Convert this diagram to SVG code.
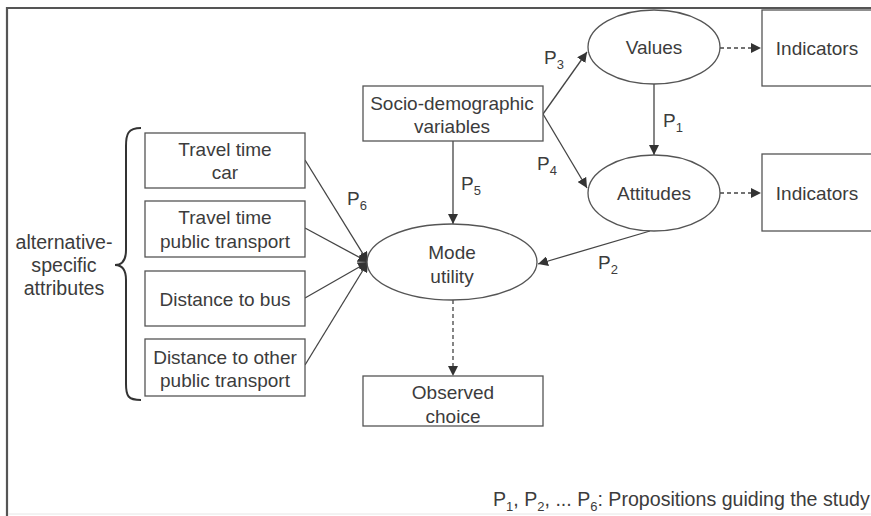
<svg xmlns="http://www.w3.org/2000/svg" width="871" height="516" viewBox="0 0 871 516">
<defs>
<style>
.box{fill:#fff;stroke:#555;stroke-width:1.3}
.ell{fill:#fff;stroke:#555;stroke-width:1.3}
.ln{fill:none;stroke:#444;stroke-width:1.3}
.dash{fill:none;stroke:#444;stroke-width:1.3;stroke-dasharray:4,3}
text{font-family:"Liberation Sans",Arial,sans-serif;font-size:19px;fill:#3c3c3c;text-anchor:middle}
.lab{text-anchor:start}
.big{font-size:19.6px}
.sub{font-size:13px}
</style>
<marker id="ah" viewBox="0 0 10 10" refX="10" refY="5" markerWidth="10" markerHeight="10" markerUnits="userSpaceOnUse" orient="auto">
<path d="M0,0 L10,5 L0,10 z" fill="#333"/>
</marker>
</defs>
<rect x="0" y="0" width="871" height="516" fill="#fff"/>
<g id="frame">
<path d="M7,516 V8 H871" fill="none" stroke="#555" stroke-width="2.2"/>
<line x1="8" y1="514" x2="871" y2="514" stroke="#e6e6e6" stroke-width="1"/>
</g>
<g id="connectors">
<line class="ln" x1="543" y1="114" x2="587" y2="52" marker-end="url(#ah)"/>
<line class="ln" x1="543" y1="114" x2="587" y2="188" marker-end="url(#ah)"/>
<line class="ln" x1="654" y1="84" x2="654" y2="155" marker-end="url(#ah)"/>
<line class="ln" x1="453" y1="141" x2="453" y2="224" marker-end="url(#ah)"/>
<line class="ln" x1="650" y1="231" x2="538" y2="264" marker-end="url(#ah)"/>
<line class="dash" x1="720" y1="48" x2="761" y2="48" marker-end="url(#ah)"/>
<line class="dash" x1="720" y1="193" x2="761" y2="193" marker-end="url(#ah)"/>
<line class="dash" x1="453" y1="300" x2="453" y2="376" marker-end="url(#ah)"/>
<line class="ln" x1="305" y1="160" x2="368" y2="262" marker-end="url(#ah)"/>
<line class="ln" x1="305" y1="228" x2="368" y2="262" marker-end="url(#ah)"/>
<line class="ln" x1="305" y1="298" x2="368" y2="262" marker-end="url(#ah)"/>
<line class="ln" x1="305" y1="365" x2="368" y2="262" marker-end="url(#ah)"/>
<text class="lab" x="544" y="64">P<tspan class="sub" dy="5">3</tspan></text>
<text class="lab" x="537" y="170">P<tspan class="sub" dy="5">4</tspan></text>
<text class="lab" x="663" y="127">P<tspan class="sub" dy="5">1</tspan></text>
<text class="lab" x="461" y="190">P<tspan class="sub" dy="5">5</tspan></text>
<text class="lab" x="598" y="269">P<tspan class="sub" dy="5">2</tspan></text>
<text class="lab" x="347" y="205">P<tspan class="sub" dy="5">6</tspan></text>
</g>
<g id="socio">
<rect class="box" x="363" y="86" width="180" height="55"/>
<text x="452" y="110">Socio-demographic</text>
<text x="452" y="133">variables</text>
</g>
<g id="values">
<ellipse class="ell" cx="654" cy="47" rx="66" ry="37"/>
<text x="654" y="54">Values</text>
</g>
<g id="attitudes">
<ellipse class="ell" cx="654" cy="193" rx="66" ry="38"/>
<text x="654" y="200">Attitudes</text>
</g>
<g id="indicators1">
<rect class="box" x="762" y="10" width="120" height="76"/>
<text x="817" y="55">Indicators</text>
</g>
<g id="indicators2">
<rect class="box" x="762" y="154" width="120" height="77"/>
<text x="817" y="200">Indicators</text>
</g>
<g id="mode">
<ellipse class="ell" cx="452" cy="262" rx="85" ry="38"/>
<text x="452" y="259">Mode</text>
<text x="452" y="283">utility</text>
</g>
<g id="observed">
<rect class="box" x="363" y="376" width="180" height="50"/>
<text x="453" y="399">Observed</text>
<text x="453" y="423">choice</text>
</g>
<g id="tt-car">
<rect class="box" x="145" y="133" width="160" height="55"/>
<text x="225" y="156">Travel time</text>
<text x="225" y="179">car</text>
</g>
<g id="tt-pt">
<rect class="box" x="145" y="201" width="160" height="56"/>
<text x="225" y="224">Travel time</text>
<text x="225" y="248">public transport</text>
</g>
<g id="dist-bus">
<rect class="box" x="145" y="271" width="160" height="55"/>
<text x="225" y="306">Distance to bus</text>
</g>
<g id="dist-other">
<rect class="box" x="145" y="339" width="160" height="57"/>
<text x="225" y="364">Distance to other</text>
<text x="225" y="387">public transport</text>
</g>
<g id="attributes">
<path d="M141,128 C128,128 126,134 126,146 L126,250 C126,260 122,265 115,265 C122,265 126,270 126,280 L126,384 C126,396 128,400 141,400" fill="none" stroke="#333" stroke-width="2"/>
<text class="big" x="64" y="249">alternative-</text>
<text class="big" x="64" y="272">specific</text>
<text class="big" x="64" y="295">attributes</text>
</g>
<g id="note">
<text class="lab big" x="493" y="506">P<tspan class="sub" dy="5">1</tspan><tspan dy="-5">, P</tspan><tspan class="sub" dy="5">2</tspan><tspan dy="-5">, ... P</tspan><tspan class="sub" dy="5">6</tspan><tspan dy="-5">: Propositions guiding the study</tspan></text>
</g>
</svg>
